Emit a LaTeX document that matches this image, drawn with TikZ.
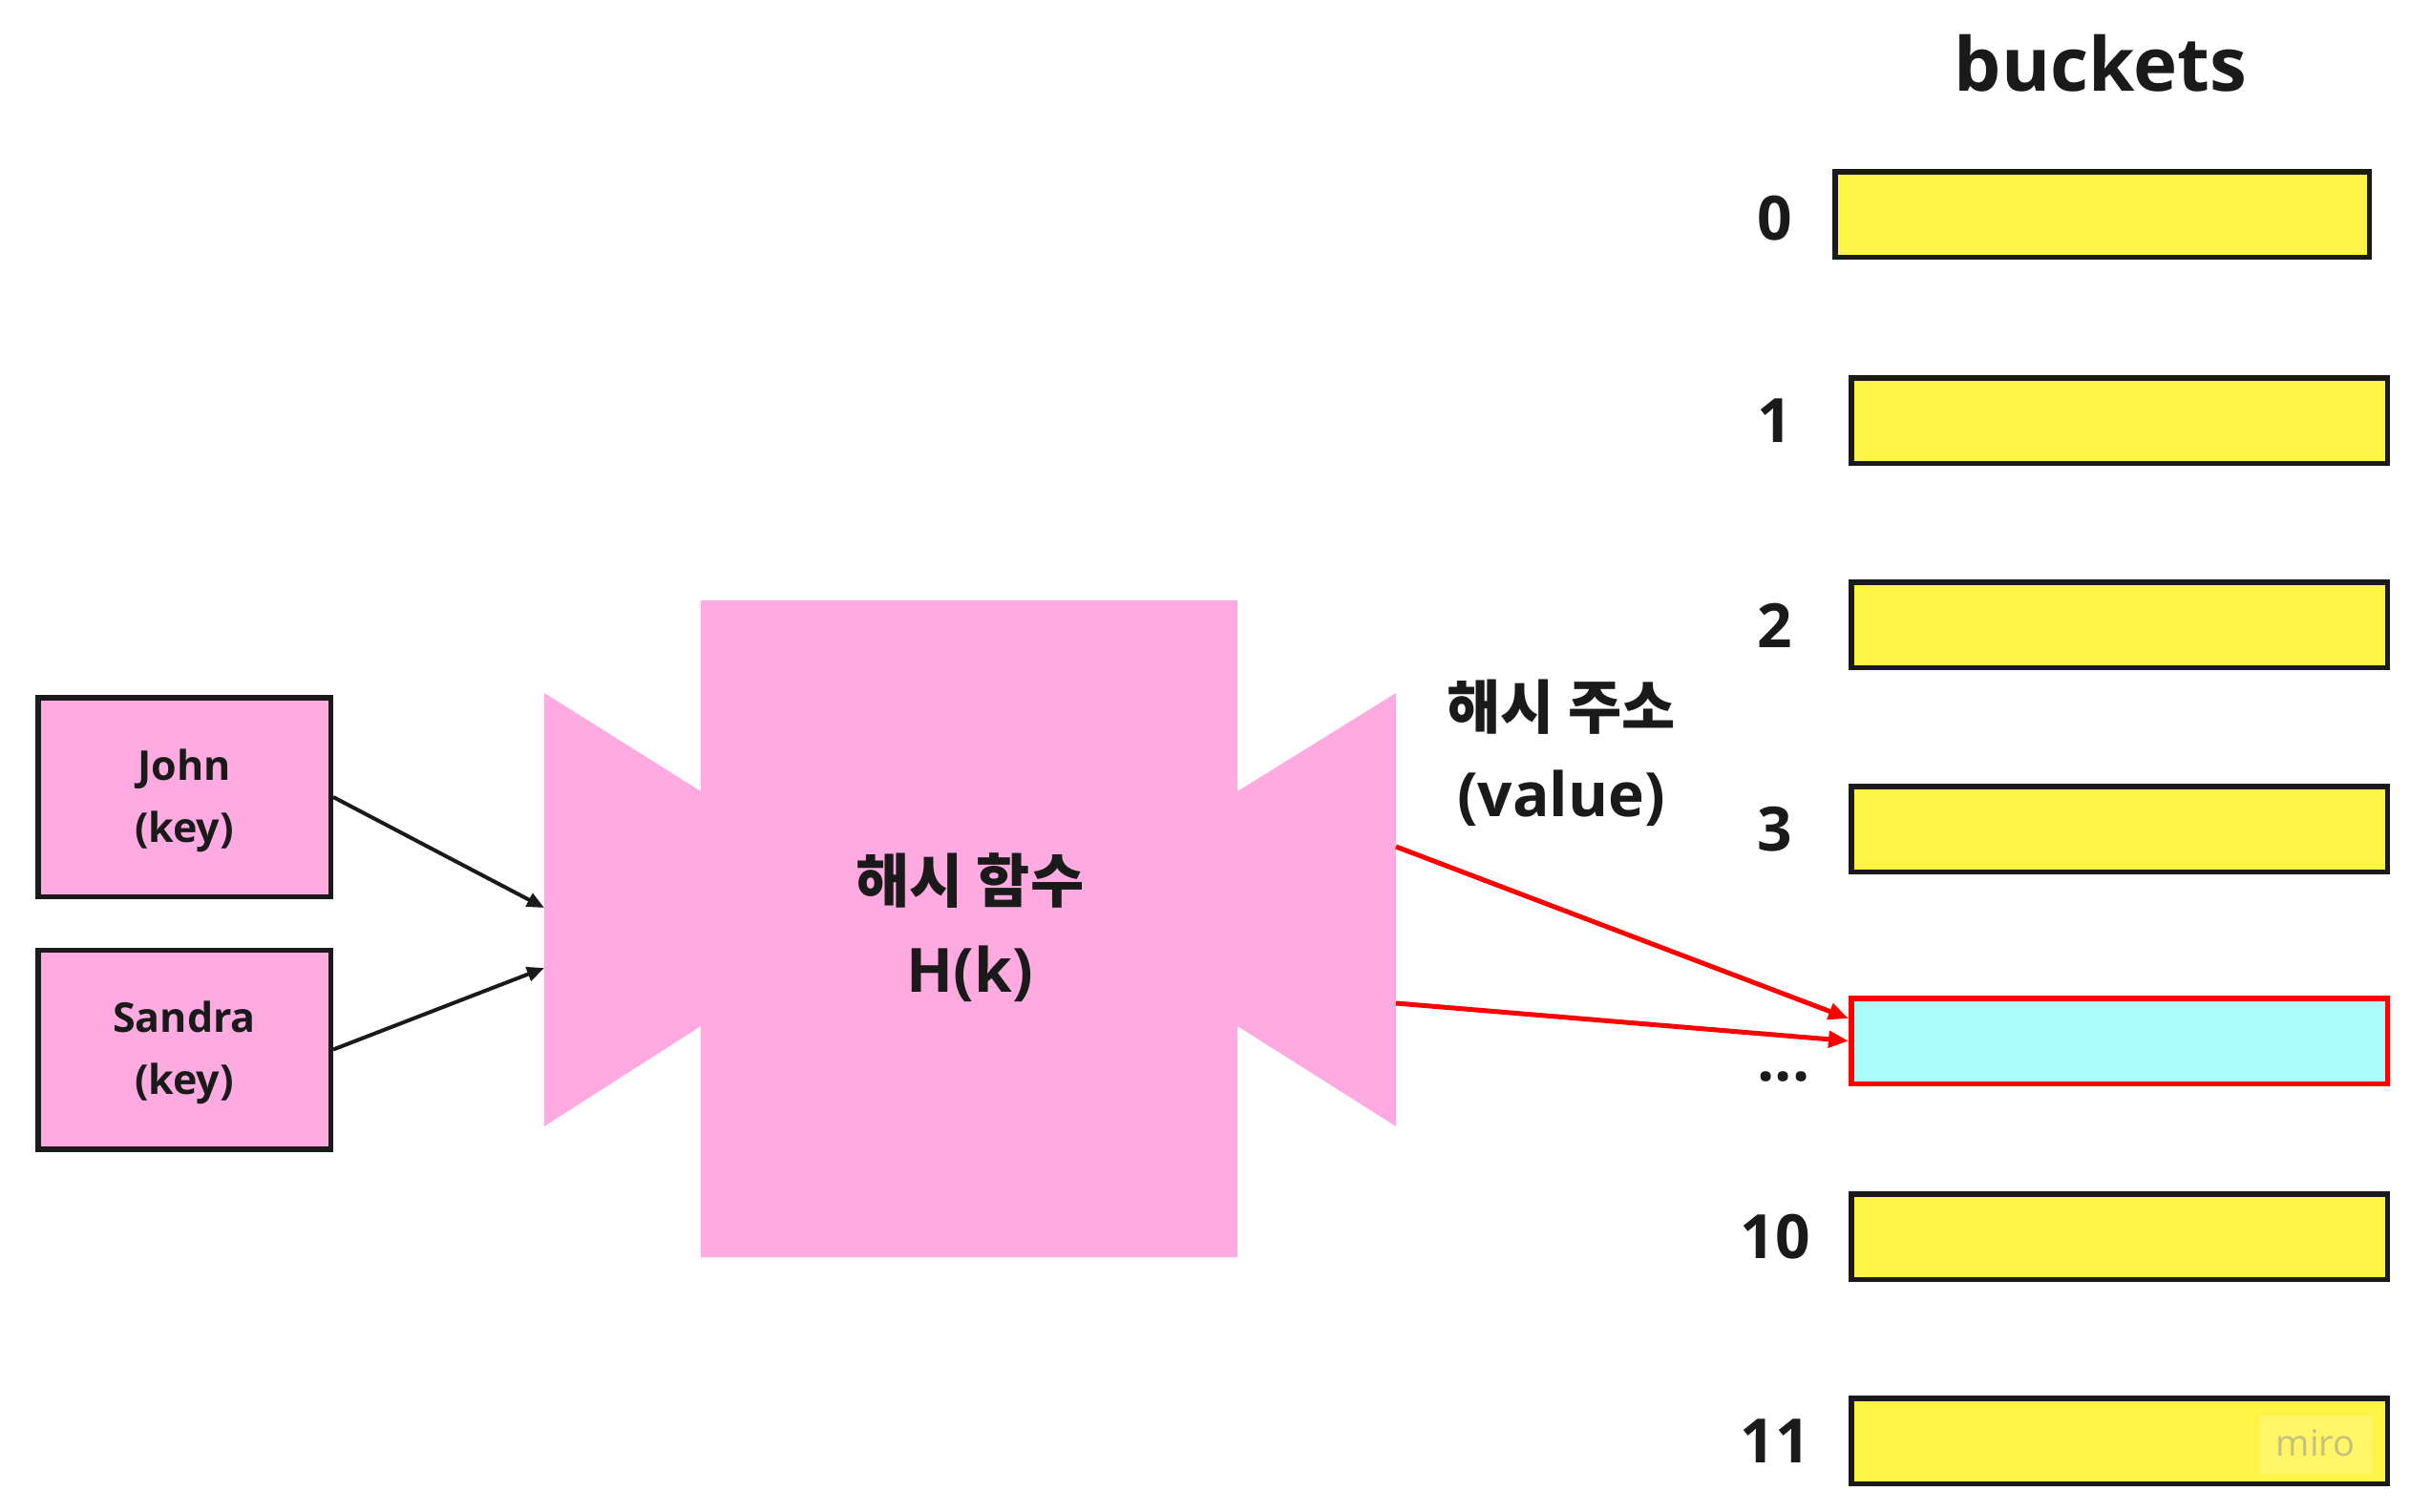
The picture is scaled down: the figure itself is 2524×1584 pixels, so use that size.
\documentclass[tikz,border=0pt]{standalone}
\usepackage{fontspec}
\setmainfont{Open Sans}
\newfontfamily\kr{Noto Sans CJK KR}
\usetikzlibrary{arrows.meta}
\definecolor{pinkf}{HTML}{FFABE1}
\definecolor{yel}{HTML}{FEF445}
\definecolor{cyanf}{HTML}{AAFCFC}
\definecolor{ink}{HTML}{1A1A1A}
\definecolor{redl}{HTML}{FF0000}
\definecolor{wm}{HTML}{C6C07E}
\definecolor{wmbox}{HTML}{FEF666}
\begin{document}
\begin{tikzpicture}[x=1pt,y=-1pt,
  keybox/.style={draw=ink, line width=5.5pt, fill=pinkf, minimum width=306.5pt, minimum height=208.5pt, inner sep=0pt, font=\fontsize{43}{65}\selectfont\bfseries, align=center, text=ink},
  bucket/.style={draw=ink, line width=5.5pt, fill=yel, minimum width=561.5pt, minimum height=89.5pt, inner sep=0pt},
  idx/.style={font=\fontsize{64}{64}\selectfont\bfseries, text=ink, inner sep=0pt},
  blackarrow/.style={draw=ink, line width=4pt, -{Triangle[length=18pt,width=15pt]}},
  redarrow/.style={draw=redl, line width=5pt, -{Triangle[length=21pt,width=17pt]}}
]
\useasboundingbox (0,0) rectangle (2524,1584);
\fill[white] (0,0) rectangle (2524,1584);

% hash function shape
\fill[pinkf] (570,726) -- (734,829) -- (734,629) -- (1296,629) -- (1296,829) -- (1462,726)
  -- (1462,1180) -- (1296,1075) -- (1296,1317) -- (734,1317) -- (734,1075) -- (570,1180) -- cycle;
\node[inner sep=0pt, align=center, text=ink, font=\fontsize{64}{94}\selectfont\bfseries] (hash) at (1016,972)
  {{\kr\bfseries\fontsize{61}{94}\selectfont 해시 함수}\\H(k)};
\coordinate (hin1) at (570,951);
\coordinate (hin2) at (570,1014);
\coordinate (hout1) at (1462,887);
\coordinate (hout2) at (1462,1051);

% keys
\node[keybox] (john) at (193,835) {\rule{0pt}{40pt}John\\(key)};
\node[keybox] (sandra) at (193,1099.5) {\rule{0pt}{40pt}Sandra\\(key)};

% label
\node[inner sep=0pt, align=center, text=ink, font=\fontsize{64}{92}\selectfont\bfseries] (addr) at (1635,789)
  {{\kr\bfseries\fontsize{61}{92}\selectfont 해시 주소}\\(value)};

% buckets
\node[font=\fontsize{78}{78}\selectfont\bfseries, text=ink, inner sep=0pt] (title) at (2200,66) {buckets};
\node[bucket, minimum width=559.5pt] (b0) at (2201.5,224.5) {};
\node[bucket] (b1) at (2219.5,440.5) {};
\node[bucket] (b2) at (2219.5,654.5) {};
\node[bucket] (b3) at (2219.5,868.5) {};
\node[bucket, draw=redl, fill=cyanf] (bh) at (2219.5,1090.5) {};
\node[bucket] (b10) at (2219.5,1295.5) {};
\node[bucket] (b11) at (2219.5,1509.5) {};

\node[idx] (l0) at (1859,229) {0};
\node[idx] (l1) at (1859,441) {1};
\node[idx] (l2) at (1859,655) {2};
\node[idx] (l3) at (1859,869) {3};
\node[idx] (ldots) at (1868,1128) {...};
\node[idx] (l10) at (1859,1296) {10};
\node[idx] (l11) at (1859,1510) {11};

% watermark
\fill[wmbox] (2366,1483) rectangle (2484,1544);
\node[text=wm, font=\fontsize{38}{38}\selectfont, inner sep=0pt] (miro) at (2425,1512) {miro};

% connectors
\coordinate (bhin1) at (1936,1067);
\coordinate (bhin2) at (1936,1090.5);
\draw[blackarrow] (john.east) -- (hin1);
\draw[blackarrow] (sandra.east) -- (hin2);
\draw[redarrow] (hout1) -- (bhin1);
\draw[redarrow] (hout2) -- (bhin2);
\end{tikzpicture}
\end{document}
